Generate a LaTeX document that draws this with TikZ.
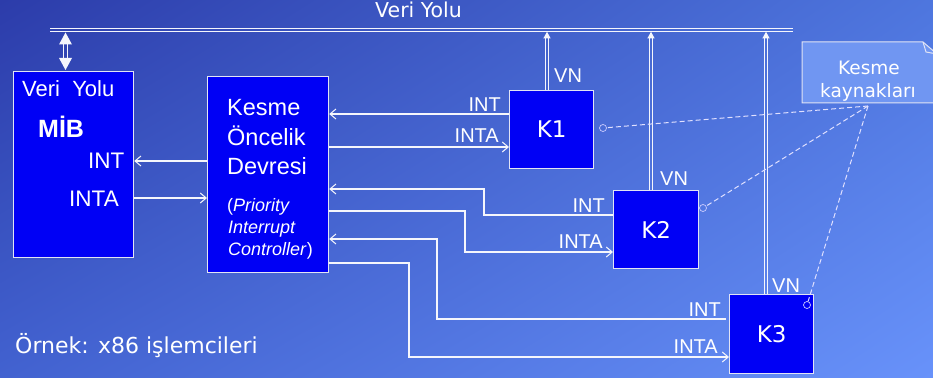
\documentclass[tikz,border=0pt]{standalone}
\usepackage{fontspec}
\setmainfont{Liberation Sans}
\newfontfamily\comic{DejaVu Sans}
\usetikzlibrary{arrows.meta,calc,shadings}
\newcommand\fsz[1]{\fontsize{#1}{#1}\selectfont}
\definecolor{boxblue}{RGB}{0,0,245}
\definecolor{edgec}{RGB}{225,228,245}
\definecolor{wirec}{RGB}{245,246,252}
\definecolor{notefill}{RGB}{112,150,242}
\definecolor{bgUL}{RGB}{44,60,170}
\definecolor{bgUR}{RGB}{78,118,222}
\definecolor{bgLL}{RGB}{66,98,208}
\definecolor{bgLR}{RGB}{104,146,250}
\begin{document}
\begin{tikzpicture}[x=1pt,y=-1pt,
  box/.style={draw=edgec,line width=1.2pt,fill=boxblue,inner sep=0pt,anchor=north west,text=white},
  wire/.style={draw=wirec,line width=1.4pt},
  arr/.style={wire,-{Straight Barb[length=6pt,width=10pt,line width=1pt]}},
  rail/.style={draw=wirec,line width=1.2pt},
  lbl/.style={text=white,inner sep=0pt,anchor=base east,font=\fsz{20}},
  vnl/.style={text=white,inner sep=0pt,anchor=base west,font=\fsz{20}},
  txt/.style={text=white,inner sep=0pt,anchor=base west},
  dashlink/.style={draw=white!88!blue,line width=1pt,dash pattern=on 5pt off 3pt},
  src/.style={circle,draw=white!80!blue,line width=0.7pt,minimum size=7pt,inner sep=0pt}
]
\useasboundingbox (0,0) rectangle (933,377);
\shade[upper left=bgUL,upper right=bgUR,lower left=bgLL,lower right=bgLR] (0,0) rectangle (933,377);

% bus
\coordinate (busL) at (50,30);
\coordinate (busR) at (793,30);
\draw[rail] ($(busL)+(0,-1.6)$) -- ($(busR)+(0,-1.6)$);
\draw[rail] ($(busL)+(0,1.6)$) -- ($(busR)+(0,1.6)$);
\node[txt,font=\comic\fsz{20.5}] (busname) at (375,18) {Veri Yolu};

% boxes
\node[box,minimum width=120pt,minimum height=186pt] (mib) at (13,71) {};
\node[box,minimum width=121pt,minimum height=196pt] (kpic) at (207,76) {};
\node[box,minimum width=84pt,minimum height=78pt,font=\comic\fsz{23}] (k1) at (509,90) {K1};
\node[box,minimum width=85pt,minimum height=78pt,font=\comic\fsz{23}] (k2) at (613,190) {K2};
\node[box,minimum width=84pt,minimum height=79pt,font=\comic\fsz{23}] (k3) at (729,294) {K3};

% MIB texts
\node[txt,font=\fsz{22}] (mt1) at (22,97) {Veri\ \ Yolu};
\node[txt,font=\bfseries\fsz{25}] (mt2) at (38,137) {MİB};
\node[txt,font=\fsz{22.5}] (mt3) at (88,168) {INT};
\node[txt,font=\fsz{22.5}] (mt4) at (69,206) {INTA};

% PIC texts
\node[txt,font=\fsz{23.5}] (pt1) at (227,116) {Kesme};
\node[txt,font=\fsz{23.5}] (pt2) at (227,145) {Öncelik};
\node[txt,font=\fsz{23.5}] (pt3) at (227,174) {Devresi};
\node[txt,font=\fsz{18}] (pt4) at (227,211) {(\textit{Priority}};
\node[txt,font=\fsz{18}] (pt5) at (228,233) {\textit{Interrupt}};
\node[txt,font=\fsz{18}] (pt6) at (228,255) {\textit{Controller})};

% MIB double arrow
\coordinate (ma) at (65.5,32.5);
\path (ma |- mib.north) coordinate (mb);
\fill[wirec] (ma) -- ++(-6.5,12) -- ++(13,0) -- cycle;
\fill[wirec] ($(mb)+(0,-1)$) -- ++(-6.5,-12) -- ++(13,0) -- cycle;
\draw[rail,line width=0.9pt] ($(ma)+(-2,11)$) -- ($(mb)+(-2,-12)$);
\draw[rail,line width=0.9pt] ($(ma)+(2,11)$) -- ($(mb)+(2,-12)$);

% VN lines
\foreach \k/\x in {k1/547,k2/651,k3/766}{
  \coordinate (v\k) at (\x,31.8);
  \fill[wirec] (v\k) -- ++(-3.6,6.5) -- ++(7.2,0) -- cycle;
  \draw[rail,line width=0.9pt] ($(v\k)+(-1.7,6)$) -- ($(v\k |- \k.north)+(-1.7,0)$);
  \draw[rail,line width=0.9pt] ($(v\k)+(1.7,6)$) -- ($(v\k |- \k.north)+(1.7,0)$);
}
\node[vnl] (vn1) at (554,83) {VN};
\node[vnl] (vn2) at (660,185) {VN};
\node[vnl] (vn3) at (772,292) {VN};

% MIB <-> PIC
\draw[arr] (kpic.west |- 0,161) -- (mib.east |- 0,161);
\draw[arr] (mib.east |- 0,198) -- (kpic.west |- 0,198);

% K1
\draw[arr] (k1.west |- 0,114) -- (kpic.east |- 0,114);
\draw[arr] (kpic.east |- 0,147) -- (k1.west |- 0,147);
\node[lbl] (i1) at (501,112) {INT};
\node[lbl] (a1) at (499,142) {INTA};

% K2
\draw[arr] (k2.west |- 0,215) -- (484,215) -- (484,189) -- (kpic.east |- 0,189);
\draw[arr] (kpic.east |- 0,211) -- (465,211) -- (465,252) -- (k2.west |- 0,252);
\node[lbl] (i2) at (605,212) {INT};
\node[lbl] (a2) at (603,248) {INTA};

% K3
\draw[arr] ($(k3.west |- 0,319)+(-3,0)$) -- (437,319) -- (437,239) -- (kpic.east |- 0,239);
\draw[arr] (kpic.east |- 0,263) -- (409,263) -- (409,357) -- (k3.west |- 0,357);
\node[lbl] (i3) at (721,316) {INT};
\node[lbl] (a3) at (718,353) {INTA};

% interrupt source points
\node[src] (c1) at (603,128) {};
\node[src] (c2) at (703,208) {};
\node[src] (c3) at (807,305) {};

% note
\filldraw[fill=notefill,draw=edgec,line width=1pt] (802,42) -- (923,42) -- (937,54) -- (937,103) -- (802,103) -- cycle;
\draw[edgec,line width=1pt] (923,42) -- (926,52) -- (937,54);
\node[text=white,inner sep=0pt,anchor=base,font=\comic\fsz{18.5}] (n1) at (869,75) {Kesme};
\node[text=white,inner sep=0pt,anchor=base,font=\comic\fsz{18.5}] (n2) at (868,98) {kaynakları};
\coordinate (nsrc) at (868,106);
\draw[dashlink] (nsrc) -- (c1);
\draw[dashlink] (nsrc) -- (c2);
\draw[dashlink] (nsrc) -- (c3);

% example
\node[txt,font=\comic\fsz{22}] (ex) at (15,353) {Örnek: x86 işlemcileri};
\end{tikzpicture}
\end{document}
